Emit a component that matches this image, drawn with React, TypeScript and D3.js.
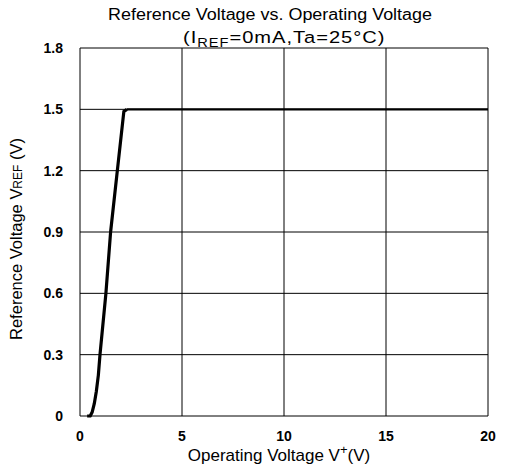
import React from 'react';
import * as d3 from 'd3';

// operating voltage V+ (V) vs reference voltage VREF (V)
const opVoltage = [0.35, 0.5, 0.6, 0.7, 0.8, 0.9, 0.98, 1.27, 1.5, 1.83, 2.15, 2.3, 5, 10, 15, 20];
const refVoltage = [0, 0, 0.02, 0.06, 0.12, 0.2, 0.3, 0.6, 0.9, 1.2, 1.49, 1.5, 1.5, 1.5, 1.5, 1.5];

const xTicks = [0, 5, 10, 15, 20];
const yTicks = [0, 0.3, 0.6, 0.9, 1.2, 1.5, 1.8];
const yTickLabels = ['0', '0.3', '0.6', '0.9', '1.2', '1.5', '1.8'];

const font = '"Liberation Sans", Arial, Helvetica, sans-serif';

export default function App() {
  const width = 510;
  const height = 474;
  const margin = { top: 48, right: 22, bottom: 58, left: 80 };

  const x = d3.scaleLinear().domain([0, 20]).range([margin.left, width - margin.right]);
  const y = d3.scaleLinear().domain([0, 1.8]).range([height - margin.bottom, margin.top]);

  const points: [number, number][] = opVoltage.map((v, i) => [v, refVoltage[i]]);
  const line = d3.line<[number, number]>()
    .x(d => x(d[0]))
    .y(d => y(d[1]));

  const rise = points.filter(d => d[0] <= 2.3);
  const flat = points.filter(d => d[0] >= 2.3);

  const cx = (margin.left + width - margin.right) / 2;

  return (
    <svg
      width={width}
      height={height}
      style={{ position: 'absolute', left: 0, top: 0, background: '#fff' }}
      fontFamily={font}
    >
      <rect width={width} height={height} fill="#fff" />

      {/* title */}
      <text
        x={108}
        y={20}
        fontSize={16}
        textLength={324}
        lengthAdjust="spacingAndGlyphs"
        fill="#000"
      >
        Reference Voltage vs. Operating Voltage
      </text>
      <text transform="translate(183,43) scale(1.22,1)" fontSize={16.5} letterSpacing={0.8} fill="#000">
        (I<tspan fontSize={12} dy={4}>REF</tspan><tspan dy={-4}>=0mA,Ta=25°C)</tspan>
      </text>

      {/* grid */}
      {xTicks.map(t => (
        <line key={'gx' + t} x1={x(t)} x2={x(t)} y1={y(0)} y2={y(1.8)} stroke="#000" strokeWidth={1} />
      ))}
      {yTicks.map(t => (
        <line key={'gy' + t} x1={x(0)} x2={x(20)} y1={y(t)} y2={y(t)} stroke="#000" strokeWidth={1} />
      ))}

      {/* curve */}
      <path d={line(rise) || ''} fill="none" stroke="#000" strokeWidth={3.2} strokeLinejoin="round" />
      <path d={line(flat) || ''} fill="none" stroke="#000" strokeWidth={2.2} />

      {/* y tick labels */}
      {yTicks.map((t, i) => (
        <text key={'ty' + t} x={63} y={y(t)} dy="0.35em" textAnchor="end" fontSize={14} fontWeight="bold" fill="#000">
          {yTickLabels[i]}
        </text>
      ))}

      {/* x tick labels */}
      {xTicks.map(t => (
        <text key={'tx' + t} x={x(t)} y={441} textAnchor="middle" fontSize={14} fontWeight="bold" fill="#000">
          {t}
        </text>
      ))}

      {/* axis titles */}
      <text x={cx - 5} y={461} textAnchor="middle" fontSize={17} fill="#000">
        Operating Voltage V<tspan fontSize={13} dy={-7}>+</tspan><tspan dy={7}>(V)</tspan>
      </text>
      <text
        transform={`translate(22,239) rotate(-90)`}
        textAnchor="middle"
        fontSize={16.5}
        fill="#000"
      >
        Reference Voltage V<tspan fontSize={12}>REF</tspan> (V)
      </text>
    </svg>
  );
}
